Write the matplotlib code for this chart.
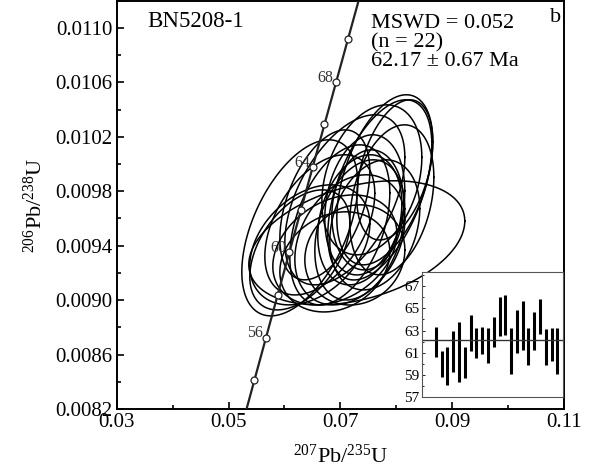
import numpy as np
import matplotlib
matplotlib.use('Agg')
import matplotlib.pyplot as plt
from matplotlib.ticker import MultipleLocator, FormatStrFormatter

plt.rcParams['font.family'] = ['Liberation Serif', 'DejaVu Serif']
plt.rcParams['mathtext.fontset'] = 'custom'
plt.rcParams['mathtext.rm'] = 'Liberation Serif'
plt.rcParams['mathtext.it'] = 'Liberation Serif:italic'

# Spot data: ratios, 2s errors, error correlation
pb207_u235 = [0.06275, 0.07295, 0.07796, 0.07707, 0.07564, 0.07438, 0.07492, 0.07349,
              0.07081, 0.06633, 0.06454, 0.06902, 0.07170, 0.06991, 0.07349, 0.06275,
              0.07922, 0.07260, 0.06723, 0.07975, 0.06902, 0.07617]
pb207_err = [0.01038, 0.01933, 0.00859, 0.00931, 0.00895, 0.00716, 0.00644, 0.00752,
             0.01074, 0.00984, 0.01074, 0.01110, 0.00984, 0.00895, 0.00805, 0.00895,
             0.00752, 0.00895, 0.00805, 0.00680, 0.00984, 0.00805]
pb206_u238 = [0.009531, 0.009421, 0.009884, 0.009810, 0.009884, 0.009700, 0.009663, 0.009590,
              0.009737, 0.009553, 0.009406, 0.009369, 0.009443, 0.009553, 0.009516, 0.009369,
              0.009737, 0.009332, 0.009700, 0.009957, 0.009281, 0.009553]
pb206_err = [0.000647, 0.000456, 0.000625, 0.000662, 0.000551, 0.000515, 0.000441, 0.000478,
             0.000625, 0.000515, 0.000441, 0.000404, 0.000478, 0.000588, 0.000515, 0.000441,
             0.000551, 0.000368, 0.000551, 0.000515, 0.000368, 0.000478]
rho = [0.50, 0.35, 0.45, 0.50, 0.30, 0.20, 0.10, 0.25, 0.50, 0.45, 0.35,
       0.30, 0.30, 0.40, 0.30, 0.45, 0.30, 0.10, 0.45, 0.40, 0.20, 0.25]

# Weighted mean inset: error bar ends of 206Pb/238U ages (Ma)
age_low = [60.65, 58.84, 58.08, 59.26, 58.38, 58.69, 61.17, 60.50, 60.90, 60.05, 61.47,
           62.53, 62.56, 59.08, 60.96, 61.26, 59.87, 61.26, 62.72, 59.90, 60.26, 59.05]
age_high = [63.29, 61.11, 61.47, 62.99, 63.75, 61.50, 64.44, 63.23, 63.35, 63.23, 64.26,
            66.02, 66.23, 63.26, 64.90, 65.65, 63.20, 64.69, 65.81, 63.17, 63.20, 63.20]
mean_age = 62.17

# Concordia ticks (Ma)
conc_ages = [54, 56, 58, 60, 62, 64, 66, 68, 70]
conc_labels = [56, 60, 64, 68]

lam238 = 1.55125e-10
lam235 = 9.8485e-10


def concordia(t_ma):
    t = np.asarray(t_ma) * 1e6
    return np.exp(lam235 * t) - 1, np.exp(lam238 * t) - 1


fig = plt.figure(figsize=(5.96, 4.72), dpi=100)
ax = fig.add_axes([0.196, 0.1335, 0.750, 0.865])

# concordia curve
cx, cy = concordia(np.linspace(45, 80, 400))
ax.plot(cx, cy, color='#222222', lw=1.6, zorder=3)
mx, my = concordia(conc_ages)
ax.plot(mx, my, 'o', ms=5, mfc='white', mec='#222222', mew=0.9, zorder=4)
for a in conc_labels:
    lx, ly = concordia(a)
    ax.annotate(str(a), (lx, ly), textcoords='offset points', xytext=(-2, 3),
                ha='right', va='center', fontsize=11.5, color='#333333', zorder=4)

# error ellipses
th = np.linspace(0, 2 * np.pi, 200)
for x, ex, y, ey, r in zip(pb207_u235, pb207_err, pb206_u238, pb206_err, rho):
    ex_pts = x + ex * np.cos(th)
    ey_pts = y + ey * (r * np.cos(th) + np.sqrt(1 - r ** 2) * np.sin(th))
    ax.plot(ex_pts, ey_pts, color='black', lw=1.1, zorder=2)

ax.set_xlim(0.03, 0.11)
ax.set_ylim(0.0082, 0.0112)
ax.xaxis.set_major_locator(MultipleLocator(0.02, offset=0.01))
ax.xaxis.set_minor_locator(MultipleLocator(0.01))
ax.yaxis.set_major_locator(MultipleLocator(0.0004, offset=0.0002))
ax.yaxis.set_minor_locator(MultipleLocator(0.0002))
ax.xaxis.set_major_formatter(FormatStrFormatter('%.2f'))
ax.yaxis.set_major_formatter(FormatStrFormatter('%.4f'))
ax.tick_params(which='both', direction='in', labelsize=15, width=1.2, pad=3)
ax.tick_params(which='major', length=5)
ax.tick_params(which='minor', length=3)
for s in ax.spines.values():
    s.set_linewidth(1.4)
ax.set_xlabel(r'$^{207}$Pb/$^{235}$U', fontsize=16, labelpad=9)
ax.set_ylabel(r'$^{206}$Pb/$^{238}$U', fontsize=16, labelpad=6)

ax.text(0.0355, 0.01105, 'BN5208-1', fontsize=16.5, va='center')
ax.text(0.0755, 0.01103, 'MSWD = 0.052', fontsize=16, va='center')
ax.text(0.0755, 0.01089, '(n = 22)', fontsize=16, va='center')
ax.text(0.0755, 0.01075, '62.17 ± 0.67 Ma', fontsize=16, va='center')
ax.text(0.1075, 0.01108, 'b', fontsize=16, va='center')

# inset weighted-mean plot
ins = fig.add_axes([0.708, 0.159, 0.237, 0.265])
ins.set_facecolor('white')
idx = np.arange(1, len(age_low) + 1)
ins.vlines(idx, age_low, age_high, color='black', lw=2.2)
ins.axhline(mean_age, color='#333333', lw=1.0)
ins.set_xlim(-1.4, 23.0)
ins.set_ylim(57, 68.3)
ins.set_xticks([])
ins.yaxis.set_major_locator(MultipleLocator(2, offset=1))
ins.yaxis.set_minor_locator(MultipleLocator(1))
ins.tick_params(axis='y', which='both', direction='in', labelsize=11, pad=2, width=0.6)
ins.tick_params(axis='y', which='major', length=2.5)
ins.tick_params(axis='y', which='minor', length=1.5)
for s in ins.spines.values():
    s.set_linewidth(0.8)
    s.set_color('#555555')

fig.savefig('out.png', dpi=100)
